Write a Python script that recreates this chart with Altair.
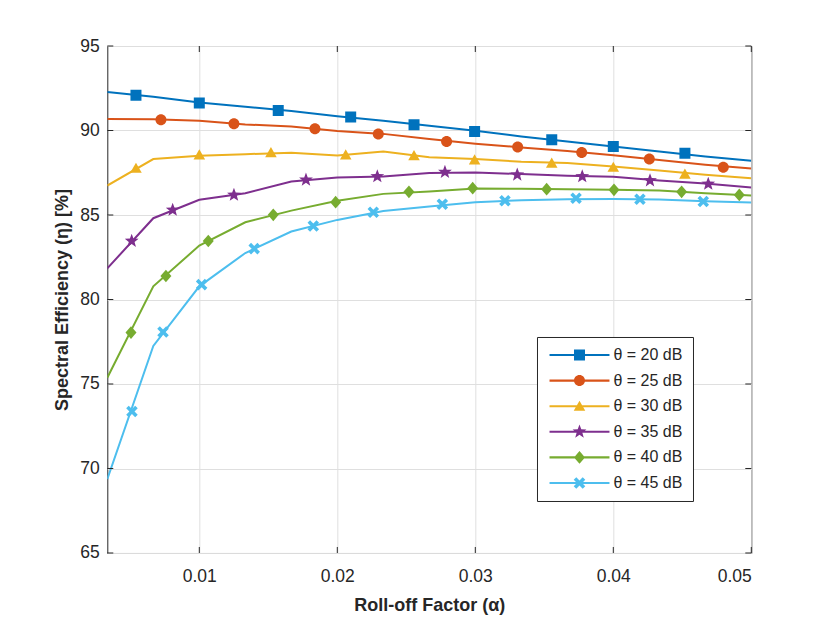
import math
import altair as alt
import pandas as pd

# ---------------- data ----------------
alpha = [0.003333, 0.006667, 0.01, 0.013333, 0.016667, 0.02, 0.023333, 0.026667,
         0.03, 0.033333, 0.036667, 0.04, 0.043333, 0.046667, 0.05]

series_names = ["θ = 20 dB", "θ = 25 dB", "θ = 30 dB", "θ = 35 dB", "θ = 40 dB", "θ = 45 dB"]
colors = ["#0072BD", "#D95319", "#EDB120", "#7E2F8E", "#77AC30", "#4DBEEE"]

eta_20 = [92.28, 92.00, 91.66, 91.41, 91.15, 90.85, 90.58, 90.28, 89.99, 89.65, 89.35, 89.06, 88.76, 88.46, 88.21]
eta_25 = [90.68, 90.66, 90.58, 90.36, 90.24, 89.97, 89.80, 89.50, 89.22, 89.00, 88.78, 88.54, 88.25, 87.97, 87.75]
eta_30 = [86.74, 88.31, 88.50, 88.60, 88.68, 88.52, 88.76, 88.42, 88.31, 88.15, 88.07, 87.87, 87.63, 87.38, 87.18]
eta_35 = [81.84, 84.81, 85.90, 86.29, 86.98, 87.22, 87.28, 87.48, 87.52, 87.42, 87.32, 87.26, 87.04, 86.86, 86.63]
eta_40 = [75.37, 80.78, 83.19, 84.57, 85.26, 85.84, 86.25, 86.39, 86.57, 86.55, 86.53, 86.49, 86.45, 86.29, 86.15]
eta_45 = [69.37, 77.25, 80.78, 82.75, 84.02, 84.71, 85.24, 85.50, 85.76, 85.88, 85.93, 85.95, 85.91, 85.82, 85.74]

mk_x_20 = [0.00541, 0.0100, 0.01572, 0.02097, 0.02556, 0.02995, 0.03554, 0.0400, 0.04519]
mk_y_20 = [92.08, 91.63, 91.19, 90.80, 90.34, 89.94, 89.45, 89.05, 88.66]
mk_x_25 = [0.00722, 0.01251, 0.01838, 0.02297, 0.02792, 0.03307, 0.03771, 0.04261, 0.04797]
mk_y_25 = [90.64, 90.40, 90.10, 89.79, 89.35, 89.02, 88.70, 88.31, 87.83]
mk_x_30 = [0.00541, 0.0100, 0.01519, 0.02061, 0.02556, 0.02995, 0.03554, 0.0400, 0.04519]
mk_y_30 = [87.77, 88.56, 88.70, 88.56, 88.52, 88.27, 88.07, 87.83, 87.42]
mk_x_35 = [0.00510, 0.00807, 0.01251, 0.01773, 0.02290, 0.02780, 0.03304, 0.03775, 0.04266, 0.04688]
mk_y_35 = [83.46, 85.30, 86.19, 87.08, 87.28, 87.54, 87.38, 87.28, 87.04, 86.84]
mk_x_40 = [0.00505, 0.00758, 0.01065, 0.01536, 0.01988, 0.02519, 0.02981, 0.03517, 0.04005, 0.04495, 0.04913]
mk_y_40 = [78.04, 81.39, 83.46, 85.01, 85.76, 86.37, 86.59, 86.53, 86.49, 86.37, 86.19]
mk_x_45 = [0.00512, 0.00737, 0.01017, 0.01398, 0.01826, 0.02261, 0.02761, 0.03215, 0.03730, 0.04193, 0.04652]
mk_y_45 = [73.37, 78.08, 80.88, 83.01, 84.35, 85.16, 85.64, 85.84, 85.99, 85.93, 85.80]

x_ticks = [0.01, 0.02, 0.03, 0.04, 0.05]
y_ticks = [65, 70, 75, 80, 85, 90, 95]
x_domain = [0.003333, 0.05]
y_domain = [65, 95]

# ---------------- marker shapes (unit paths) ----------------
def poly(pts):
    return "M" + " L".join(f"{x:.3f},{y:.3f}" for x, y in pts) + " Z"

square = poly([(-1, -1), (1, -1), (1, 1), (-1, 1)])
circle = "M1,0 A1,1 0 1,1 -1,0 A1,1 0 1,1 1,0 Z"
triangle = poly([(0, -1.0), (1.05, 0.85), (-1.05, 0.85)])
star_pts = []
for k in range(10):
    r = 1.32 if k % 2 == 0 else 0.55
    a = math.radians(-90 + 36 * k)
    star_pts.append((r * math.cos(a), r * math.sin(a)))
star = poly(star_pts)
diamond = poly([(0, -1.15), (1.0, 0), (0, 1.15), (-1.0, 0)])
w = 0.33
arm = 1.05 * math.sqrt(2) - w
plus = [(-w, -arm), (w, -arm), (w, -w), (arm, -w), (arm, w), (w, w), (w, arm),
        (-w, arm), (-w, w), (-arm, w), (-arm, -w), (-w, -w)]
c45 = math.cos(math.pi / 4)
xmark = poly([((x - y) * c45, (x + y) * c45) for x, y in plus])
markers = [square, circle, triangle, star, diamond, xmark]

L, t = 5.45, 0.19
legend_line = poly([(-L, -t), (L, -t), (L, t), (-L, t)])
legend_paths = [legend_line + " " + m for m in markers]

W, H = 644, 507
xs = alt.Scale(domain=x_domain, nice=False, zero=False)
ys = alt.Scale(domain=y_domain, nice=False, zero=False)
x_axis = alt.Axis(values=x_ticks, format=".2f", title="Roll-off Factor (α)",
                  labelPadding=15, titlePadding=11)
y_axis = alt.Axis(values=y_ticks, format="d", title="Spectral Efficiency (η) [%]",
                  labelPadding=8, titlePadding=8)

etas = [eta_20, eta_25, eta_30, eta_35, eta_40, eta_45]
mkx = [mk_x_20, mk_x_25, mk_x_30, mk_x_35, mk_x_40, mk_x_45]
mky = [mk_y_20, mk_y_25, mk_y_30, mk_y_35, mk_y_40, mk_y_45]

series_layers = []
for name, col, mk, vals, xv, yv in zip(series_names, colors, markers, etas, mkx, mky):
    ldf = pd.DataFrame({"alpha": alpha, "eta": vals})
    series_layers.append(
        alt.Chart(ldf).mark_line(color=col, strokeWidth=2, clip=True).encode(
            x=alt.X("alpha:Q", scale=xs, axis=x_axis),
            y=alt.Y("eta:Q", scale=ys, axis=y_axis),
        )
    )
    pdf = pd.DataFrame({"alpha": xv, "eta": yv})
    series_layers.append(
        alt.Chart(pdf).mark_point(shape=mk, filled=True, size=121, opacity=1, color=col,
                                  strokeWidth=0, clip=True).encode(
            x=alt.X("alpha:Q", scale=xs, axis=x_axis),
            y=alt.Y("eta:Q", scale=ys, axis=y_axis),
        )
    )

leg_props = dict(orient="none", legendX=429.7, legendY=291, padding=10,
                 rowPadding=9.6, symbolSize=121, symbolStrokeWidth=0,
                 symbolOffset=24.5, labelOffset=26,
                 labelFont="Liberation Sans", labelFontSize=16,
                 labelColor="#262626", strokeColor="#262626", fillColor="white", labelLimit=300)

legend_layer = alt.Chart(pd.DataFrame({"series": series_names})).mark_point(
    filled=True, opacity=1, size=121, clip=True
).encode(
    x=alt.value(-300), y=alt.value(-300),
    color=alt.Color("series:N", scale=alt.Scale(domain=series_names, range=colors),
                    title="", legend=alt.Legend(**leg_props)),
    shape=alt.Shape("series:N", scale=alt.Scale(domain=series_names, range=legend_paths),
                    title="", legend=alt.Legend(**leg_props)),
)

xt_df = pd.DataFrame({"alpha": x_ticks})
yt_df = pd.DataFrame({"eta": y_ticks})
tick_color = "#262626"
tick_layers = [
    alt.Chart(xt_df).mark_rule(color=tick_color, strokeWidth=1).encode(
        x=alt.X("alpha:Q", scale=xs, axis=x_axis), y=alt.value(H), y2=alt.value(H - 6)),
    alt.Chart(xt_df).mark_rule(color=tick_color, strokeWidth=1).encode(
        x=alt.X("alpha:Q", scale=xs, axis=x_axis), y=alt.value(0), y2=alt.value(6)),
    alt.Chart(yt_df).mark_rule(color=tick_color, strokeWidth=1).encode(
        y=alt.Y("eta:Q", scale=ys, axis=y_axis), x=alt.value(0), x2=alt.value(6)),
    alt.Chart(yt_df).mark_rule(color=tick_color, strokeWidth=1).encode(
        y=alt.Y("eta:Q", scale=ys, axis=y_axis), x=alt.value(W), x2=alt.value(W - 6)),
]

chart = alt.layer(*series_layers, legend_layer, *tick_layers).properties(
    width=W, height=H,
    padding={"left": 99.3, "top": 38, "right": 70, "bottom": 62},
    autosize=alt.AutoSizeParams(type="none"),
    background="white",
).configure_view(
    stroke="#262626", strokeWidth=1
).configure_axis(
    grid=True, gridColor="#dfdfdf", gridWidth=1, domain=False, ticks=False,
    labelFont="Liberation Sans", labelFontSize=17.5, labelColor="#262626",
    titleFont="Liberation Sans", titleFontSize=18, titleFontWeight="bold", titleColor="#262626",
)

chart.save("out.html", embed_options={"renderer": "svg", "actions": False})
